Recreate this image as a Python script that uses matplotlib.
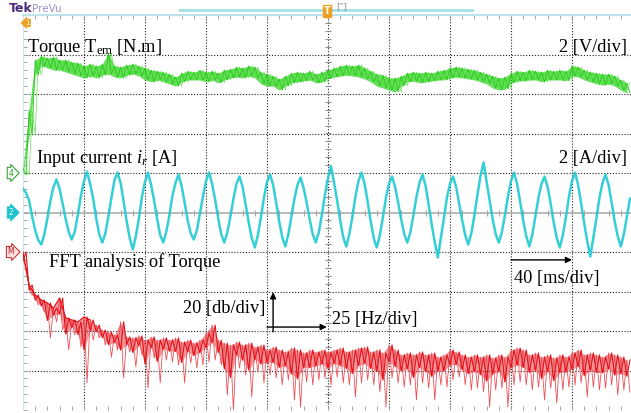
import numpy as np
import matplotlib.pyplot as plt

plt.rcParams['mathtext.fontset'] = 'custom'
plt.rcParams['mathtext.rm'] = 'Liberation Serif'
plt.rcParams['mathtext.it'] = 'Liberation Serif:italic'
SERIF = 'Liberation Serif'

# ---- data ----
# torque (ch4), 2 N.m/div, sampled every 4 ms; upper / lower edge of the noisy trace
torque_t = np.arange(0, 400, 4)
torque_hi = [0.25, 3.19, 5.72, 5.92, 5.82, 5.87, 5.72, 5.72, 5.62, 5.57,
             5.42, 5.52, 5.42, 5.52, 6.07, 5.42, 5.37, 5.47, 5.52, 5.42,
             5.32, 5.21, 5.16, 5.11, 5.01, 4.86, 5.06, 5.16, 5.11, 5.21,
             5.11, 5.16, 5.06, 5.21, 5.26, 5.37, 5.32, 5.42, 5.37, 5.11,
             5.01, 4.91, 4.76, 4.91, 5.06, 5.11, 5.06, 5.16, 5.01, 5.11,
             5.21, 5.32, 5.42, 5.47, 5.42, 5.47, 5.32, 5.16, 5.01, 4.96,
             4.81, 4.81, 4.91, 5.06, 5.11, 5.06, 5.11, 5.06, 5.16, 5.21,
             5.32, 5.37, 5.32, 5.26, 5.21, 5.11, 5.01, 4.91, 4.81, 4.86,
             5.06, 5.16, 5.11, 5.21, 5.16, 5.11, 5.21, 5.16, 5.21, 5.16,
             5.42, 5.37, 5.21, 5.11, 5.06, 5.01, 5.01, 4.91, 4.71, 4.56]
torque_lo = [-0.10, 1.92, 4.96, 5.42, 5.32, 5.21, 5.21, 5.11, 5.01, 4.91,
             4.81, 4.91, 4.81, 4.96, 5.01, 4.86, 4.81, 4.96, 5.01, 4.91,
             4.71, 4.61, 4.71, 4.61, 4.51, 4.40, 4.61, 4.71, 4.71, 4.71,
             4.61, 4.71, 4.56, 4.71, 4.81, 4.86, 4.81, 4.91, 4.81, 4.51,
             4.40, 4.40, 4.20, 4.40, 4.56, 4.61, 4.66, 4.71, 4.56, 4.61,
             4.81, 4.86, 4.91, 4.96, 4.91, 4.86, 4.76, 4.61, 4.40, 4.30,
             4.20, 4.10, 4.40, 4.61, 4.66, 4.56, 4.61, 4.66, 4.71, 4.71,
             4.81, 4.86, 4.81, 4.76, 4.71, 4.61, 4.51, 4.30, 4.20, 4.25,
             4.56, 4.66, 4.66, 4.71, 4.71, 4.61, 4.71, 4.71, 4.71, 4.66,
             4.91, 4.86, 4.71, 4.61, 4.51, 4.45, 4.51, 4.40, 4.20, 4.05]

# input current (ch2), 2 A/div, sampled every 2 ms
current_t = np.arange(0, 400, 2)
current_a = [1.2, 1.0, 0.6, -0.2, -0.9, -1.4, -1.62, -1.1, -0.3, 0.6,
             1.3, 1.67, 1.2, 0.45, -0.35, -1.0, -1.37, -0.95, -0.1, 0.85,
             1.6, 2.07, 1.45, 0.7, -0.3, -1.1, -1.52, -1.05, -0.2, 0.75,
             1.65, 2.02, 1.5, 0.55, -0.45, -1.3, -1.87, -1.2, -0.3, 0.8,
             1.55, 2.02, 1.4, 0.6, -0.35, -1.15, -1.52, -0.95, -0.15, 0.85,
             1.5, 1.92, 1.35, 0.5, -0.4, -1.05, -1.37, -0.9, -0.05, 0.8,
             1.6, 2.02, 1.45, 0.65, -0.3, -1.1, -1.52, -1.0, -0.2, 0.7,
             1.45, 1.82, 1.3, 0.4, -0.5, -1.3, -1.77, -1.15, -0.25, 0.75,
             1.55, 1.92, 1.4, 0.5, -0.45, -1.25, -1.72, -1.1, -0.2, 0.7,
             1.4, 1.77, 1.25, 0.5, -0.35, -1.1, -1.52, -1.0, -0.1, 0.9,
             1.75, 2.33, 1.5, 0.6, -0.4, -1.25, -1.72, -1.1, -0.2, 0.8,
             1.6, 2.02, 1.45, 0.55, -0.45, -1.3, -1.77, -1.15, -0.25, 0.75,
             1.45, 1.82, 1.3, 0.5, -0.35, -1.1, -1.52, -1.0, -0.15, 0.8,
             1.5, 1.92, 1.35, 0.4, -0.6, -1.5, -2.28, -1.3, -0.3, 0.75,
             1.45, 1.82, 1.3, 0.45, -0.4, -1.15, -1.62, -1.05, -0.15, 0.9,
             1.85, 2.53, 1.55, 0.6, -0.35, -1.1, -1.52, -1.0, -0.15, 0.8,
             1.6, 2.02, 1.45, 0.55, -0.4, -1.2, -1.72, -1.1, -0.2, 0.75,
             1.45, 1.82, 1.3, 0.45, -0.5, -1.3, -1.77, -1.15, -0.25, 0.8,
             1.6, 2.02, 1.4, 0.45, -0.55, -1.45, -2.23, -1.25, -0.3, 0.75,
             1.5, 1.92, 1.4, 0.5, -0.45, -1.2, -1.72, -1.1, -0.2, 0.7]

# FFT of torque (math), 20 dB/div, 25 Hz/div, every 2.5 Hz; upper edge / deepest dip
fft_f = np.arange(0, 250, 2.5)
fft_hi = [0.0, -16.7, -21.8, -24.3, -25.8, -28.4, -23.3, -33.4, -34.4, -35.4,
          -32.9, -34.4, -37.0, -39.5, -40.5, -42.0, -35.4, -43.0, -43.5, -42.5,
          -44.6, -43.0, -44.6, -43.5, -44.6, -43.5, -45.6, -44.6, -46.1, -44.6,
          -41.0, -37.0, -44.6, -46.1, -47.1, -45.6, -47.1, -46.1, -48.1, -47.1,
          -49.6, -48.1, -49.6, -50.6, -48.6, -49.6, -51.1, -49.6, -50.6, -49.6,
          -50.6, -49.6, -48.6, -50.6, -49.6, -48.6, -48.1, -50.6, -49.6, -51.1,
          -47.1, -49.6, -52.1, -51.1, -52.1, -50.6, -52.1, -51.1, -53.2, -52.1,
          -49.6, -50.6, -52.1, -53.2, -52.1, -53.2, -52.1, -53.7, -52.1, -53.2,
          -49.6, -48.6, -49.6, -52.1, -51.1, -53.2, -52.1, -53.7, -52.1, -53.2,
          -51.1, -49.6, -52.1, -51.1, -52.1, -53.2, -51.1, -52.1, -53.2, -54.7]
fft_lo = [-9.1, -21.8, -26.8, -30.4, -43.5, -35.4, -39.5, -49.6, -42.0, -48.1,
          -66.3, -44.6, -43.5, -47.1, -53.2, -49.6, -63.8, -50.6, -58.2, -52.1,
          -68.9, -53.7, -66.3, -54.7, -55.7, -57.2, -66.3, -56.2, -58.7, -57.2,
          -55.7, -54.7, -57.2, -72.4, -80.0, -58.7, -62.3, -73.4, -60.8, -66.3,
          -62.3, -63.8, -67.3, -64.8, -74.9, -78.5, -65.8, -67.3, -64.8, -63.8,
          -67.3, -63.3, -66.3, -67.3, -73.4, -66.3, -64.8, -67.3, -70.9, -78.5,
          -63.8, -66.3, -68.4, -67.3, -74.9, -66.3, -68.9, -74.9, -67.3, -68.4,
          -64.8, -63.3, -67.3, -69.9, -68.9, -70.9, -78.5, -69.9, -68.9, -78.5,
          -67.3, -65.8, -67.3, -69.9, -68.4, -74.9, -68.9, -76.5, -69.9, -68.4,
          -67.3, -66.3, -73.4, -68.4, -69.9, -68.9, -67.3, -72.4, -69.9, -70.9]

labels = {
    'torque': r'Torque T$_{\rm em}$ [N.m]',
    'torque_scale': '2 [V/div]',
    'current': r'Input current $i_r$ [A]',
    'current_scale': '2 [A/div]',
    'fft': 'FFT analysis of Torque',
    'time_scale': '40 [ms/div]',
    'db_scale': '20 [db/div]',
    'hz_scale': '25 [Hz/div]',
}

GREEN = '#2ed21e'
CYAN = '#1cc3cc'
RED = '#e3121a'


def zigzag(x, hi, lo, dx):
    xs = np.column_stack([x, x + dx]).ravel()
    ys = np.column_stack([hi, lo]).ravel()
    return xs, ys


fig = plt.figure(figsize=(6.31, 4.13), dpi=100)
rect = [23 / 631, 3 / 413, 608 / 631, 395 / 413]
xdivs = 608 / 61

# screen graticule, in divisions
ax = fig.add_axes(rect)
ax.set_xlim(0, xdivs)
ax.set_ylim(0, 10)
for s in ['right', 'bottom']:
    ax.spines[s].set_visible(False)
ax.spines['top'].set_color('#bfe3ec')
ax.spines['top'].set_linewidth(1.5)
ax.spines['left'].set_color('#d4e4ea')
ax.set_xticks(np.arange(0, xdivs, 0.2))
ax.set_yticks(np.arange(0, 10.01, 0.2))
ax.tick_params(direction='in', length=3, width=0.6, color='#8c9aa0',
               labelleft=False, labelbottom=False, top=True, bottom=True)

for k in range(1, 10):
    ax.axvline(k, color='#222222', lw=0.8, ls=(0, (1, 1.6)), zorder=1)
    if k != 5:
        ax.axhline(k, color='#222222', lw=0.8, ls=(0, (1, 1.6)), zorder=1)
ax.axhline(5, color='#b4b4b4', lw=1.3, zorder=1)
tx = np.arange(0.2, xdivs, 0.2)
ax.plot(tx, np.full(len(tx), 5.0), ls='', marker='|', ms=5, mew=0.8, color='#a8a8a8', zorder=1)
ty = np.arange(0.2, 10, 0.2)
ax.plot(np.full(len(ty), 5.0), ty, ls='', marker='_', ms=5, mew=0.8, color='#909090', zorder=1)

# torque trace: band between edges plus a fine scribble for the noise texture
ax_t = fig.add_axes(rect, zorder=2)
ax_t.set_xlim(0, xdivs * 40)
ax_t.set_ylim(-12, 8)
ax_t.set_axis_off()
ax_t.fill_between(torque_t, torque_hi, torque_lo, color=GREEN, alpha=0.7, lw=0)
x, y = zigzag(torque_t, torque_hi, torque_lo, 2.0)
ax_t.plot(x, y, color='#22c812', lw=0.6)
ax_t.plot(x[1:], y[:-1], color='#45dc35', lw=0.5, alpha=0.8)

# current trace
ax_i = fig.add_axes(rect, zorder=3)
ax_i.set_xlim(0, xdivs * 40)
ax_i.set_ylim(-10, 10)
ax_i.set_axis_off()
ax_i.plot(current_t, current_a, color=CYAN, lw=1.8, alpha=0.85)
ax_i.plot(current_t, current_a, color='#2ad4dc', lw=0.6)

# FFT trace: a noisy band down to the dips, densest just under the upper edge
ax_f = fig.add_axes(rect, zorder=4)
ax_f.set_xlim(0, xdivs * 25)
ax_f.set_ylim(-80, 120)
ax_f.set_axis_off()
hi = np.array(fft_hi)
lo = np.array(fft_lo)
mid = (hi + lo) / 2
ax_f.fill_between(fft_f, hi, mid, color=RED, alpha=0.45, lw=0)
x, y = zigzag(fft_f, fft_hi, fft_lo, 1.25)
ax_f.plot(x, y, color='#ec5058', lw=0.6)
x, y = zigzag(fft_f, mid, fft_hi, 1.25)
ax_f.plot(x, y, color=RED, lw=0.8)
ax_f.plot(fft_f[:12], fft_hi[:12], color=RED, lw=0.9)

# annotation layer
ax_a = fig.add_axes(rect, zorder=5)
ax_a.set_xlim(0, xdivs)
ax_a.set_ylim(0, 10)
ax_a.set_axis_off()
fs = 13.2
ax_a.text(0.07, 9.06, labels['torque'], family=SERIF, fontsize=fs, va='baseline')
ax_a.text(9.9, 9.06, labels['torque_scale'], family=SERIF, fontsize=fs, va='baseline', ha='right')
ax_a.text(0.21, 6.25, labels['current'], family=SERIF, fontsize=fs, va='baseline')
ax_a.text(9.9, 6.25, labels['current_scale'], family=SERIF, fontsize=fs, va='baseline', ha='right')
ax_a.text(0.43, 3.62, labels['fft'], family=SERIF, fontsize=fs, va='baseline')
ax_a.text(8.05, 3.22, labels['time_scale'], family=SERIF, fontsize=fs, va='baseline')
ax_a.text(3.98, 2.46, labels['db_scale'], family=SERIF, fontsize=fs, va='baseline', ha='right')
ax_a.text(5.07, 2.18, labels['hz_scale'], family=SERIF, fontsize=fs, va='baseline')

arw = dict(arrowstyle='-|>', color='black', lw=1.0, mutation_scale=9, shrinkA=0, shrinkB=0)
ax_a.annotate('', xy=(9.0, 3.8), xytext=(8.0, 3.8), arrowprops=arw)
ax_a.annotate('', xy=(4.1, 2.98), xytext=(4.1, 1.98), arrowprops=arw)
ax_a.annotate('', xy=(4.98, 2.1), xytext=(4.0, 2.1), arrowprops=arw)

# channel markers on the left edge
ax_a.text(-0.2, 6.0, '4', fontsize=5.5, color='#1a9a1a', ha='center', va='center', clip_on=False,
          bbox=dict(boxstyle='rarrow,pad=0.15', fc='white', ec='#1a9a1a', lw=0.7))
ax_a.text(-0.2, 5.0, '2', fontsize=5.5, color='white', ha='center', va='center', clip_on=False,
          bbox=dict(boxstyle='rarrow,pad=0.15', fc=CYAN, ec=CYAN, lw=0.7))
ax_a.text(-0.2, 4.0, 'M', fontsize=5.5, color='#c02020', ha='center', va='center', clip_on=False,
          bbox=dict(boxstyle='rarrow,pad=0.15', fc='#fbe0e0', ec='#c02020', lw=0.7))
ax_a.text(0.07, 9.8, '1', fontsize=5, color='white', ha='center', va='center', clip_on=False,
          bbox=dict(boxstyle='larrow,pad=0.12', fc='#f0a020', ec='#f0a020', lw=0.5))

# top status bar
fig.text(9 / 631, 1 - 9 / 413, 'Tek', fontsize=9, weight='bold', color='#4a2a7e', va='center')
fig.text(32 / 631, 1 - 9 / 413, 'PreVu', fontsize=7.5, color='#9a90cc', va='center')
fig.add_artist(plt.Line2D([180 / 631, 472 / 631], [1 - 9.5 / 413, 1 - 9.5 / 413],
                          color='#a8e2e4', lw=2.2))
fig.text(327 / 631, 1 - 11 / 413, 'T', fontsize=7, weight='bold', color='white', ha='center', va='center',
         bbox=dict(boxstyle='square,pad=0.1', fc='#f0a020', ec='#f0a020'))
fig.text(342 / 631, 1 - 7 / 413, '[\u02dc]', fontsize=6, color='#888888', ha='center', va='center')

fig.savefig('out.png', dpi=100)
